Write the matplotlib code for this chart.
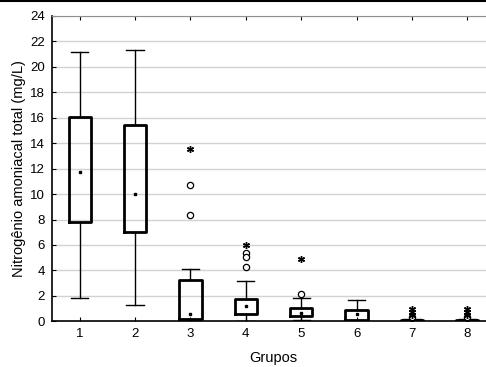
import matplotlib
matplotlib.use("Agg")
import matplotlib.pyplot as plt
from matplotlib.lines import Line2D

plt.rcParams['font.family'] = ['Liberation Sans', 'DejaVu Sans']

groups = [1, 2, 3, 4, 5, 6, 7, 8]
whis_low = [1.85, 1.27, 0.05, 0.02, 0.13, 0.05, 0.0, 0.0]
q1 = [7.8, 7.03, 0.16, 0.55, 0.40, 0.13, 0.02, 0.02]
median = [11.75, 9.98, 0.6, 1.18, 0.65, 0.57, 0.1, 0.1]
q3 = [16.04, 15.45, 3.28, 1.79, 1.08, 0.92, 0.12, 0.12]
whis_high = [21.16, 21.36, 4.08, 3.15, 1.84, 1.65, 0.2, 0.2]
circle_out = [[], [], [10.68, 8.35], [5.38, 5.06, 4.3], [2.15], [], [0.3], [0.3]]
star_out = [[], [], [13.55], [6.0], [4.93], [], [0.95, 0.72, 0.5], [0.95, 0.72, 0.5]]

fig = plt.figure(figsize=(4.86, 3.67), dpi=100)
ax = fig.add_axes([52/486, 1 - 321.3/367, 443/486, 305.3/367])

stats = []
for i in range(len(groups)):
    stats.append(dict(med=median[i], q1=q1[i], q3=q3[i],
                      whislo=whis_low[i], whishi=whis_high[i], fliers=[]))
ax.bxp(stats, positions=groups, widths=0.4, showfliers=False,
       boxprops=dict(color='black', linewidth=2.0),
       whiskerprops=dict(color='black', linewidth=1.0),
       capprops=dict(color='black', linewidth=1.0),
       medianprops=dict(linewidth=0), capwidths=0.31,
       manage_ticks=False, zorder=3)
ax.plot(groups, median, linestyle='none', marker='s', markersize=1.8,
        color='black', zorder=4)
for g, vals in zip(groups, circle_out):
    if vals:
        ax.plot([g]*len(vals), vals, linestyle='none', marker='o', markersize=4.5,
                markerfacecolor='white', markeredgecolor='black', markeredgewidth=0.9, zorder=4)
for g, vals in zip(groups, star_out):
    if vals:
        ax.plot([g]*len(vals), vals, linestyle='none', marker=(6, 2, 0), markersize=5,
                color='black', markeredgewidth=1.0, zorder=4)

ax.set_xlim(0.5, 8.5)
ax.set_ylim(0, 24)
ax.set_yticks(range(0, 25, 2))
ax.set_xticks(groups)
ax.set_xticklabels([str(g) for g in groups])
ax.yaxis.grid(True, color='#d2d2d2', linewidth=1.0)
ax.set_axisbelow(True)
ax.tick_params(direction='in', length=3, labelsize=9.5, top=True, pad=5)
for s in ['left', 'bottom']:
    ax.spines[s].set_linewidth(1.2)
ax.spines['top'].set_color('#909090')
ax.spines['right'].set_visible(False)
ax.set_xlabel('Grupos', fontsize=10.5, labelpad=8)
ax.set_ylabel('Nitrogênio amoniacal total (mg/L)', fontsize=10.5, labelpad=3)

fig.add_artist(Line2D([0, 1], [0.998, 0.998], color='black', linewidth=1.5,
                      transform=fig.transFigure))

fig.savefig('out.png', dpi=100)
